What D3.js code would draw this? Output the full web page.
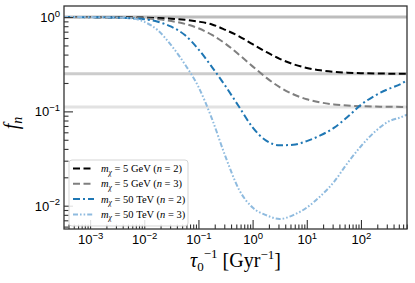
<!DOCTYPE html>
<html><head><meta charset="utf-8">
<script src="https://cdn.jsdelivr.net/npm/d3@7"></script>
<style>
html,body{margin:0;padding:0;background:#fff;}
svg{display:block;font-family:"Liberation Serif","DejaVu Serif",serif;}
</style></head>
<body><svg id="c" width="415" height="283"></svg>
<script>
// inverse timescale tau0^-1 [Gyr^-1]
const tauInv = [3.16e-4,5.62e-4,1e-3,1.78e-3,3.16e-3,5.62e-3,1e-2,1.78e-2,3.16e-2,5.62e-2,0.1,0.178,0.316,0.562,1,1.78,3.16,5.62,10,17.8,31.6,56.2,100,178,316,562,708];
const f5GeVn2 = [1.0,0.9993,0.9986,0.9976,0.9957,0.9924,0.9866,0.9765,0.96,0.935,0.895,0.835,0.73,0.625,0.516,0.427,0.361,0.317,0.289,0.2725,0.2628,0.2573,0.2541,0.2523,0.2513,0.2507,0.2506];
const f5GeVn3 = [0.999,0.998,0.9967,0.994,0.9897,0.9818,0.9683,0.945,0.907,0.847,0.760,0.647,0.521,0.399,0.300,0.228,0.1805,0.1518,0.1345,0.1244,0.1186,0.1154,0.1135,0.1125,0.1119,0.1115,0.1114];
const f50TeVn2 = [1.0,0.999,0.997,0.993,0.986,0.972,0.95,0.89,0.79,0.645,0.455,0.295,0.185,0.112,0.0676,0.049,0.0437,0.0442,0.0484,0.0556,0.0668,0.087,0.1175,0.146,0.172,0.197,0.214];
const f50TeVn3 = [1.0,1.0,0.998,0.995,0.989,0.973,0.89,0.724,0.501,0.316,0.182,0.0832,0.0331,0.0148,0.00955,0.00794,0.00724,0.00794,0.00955,0.0126,0.0178,0.0282,0.0427,0.0603,0.0776,0.0871,0.0923];
const refLevels = [1, 0.25, 0.1111];
const refColors = ["#bdbdbd","#cccccc","#e2e2e2"];
const xMajor = [1e-3,1e-2,1e-1,1,10,100];
const xMajorExp = ["\u22123","\u22122","\u22121","0","1","2"];
const yMajor = [1,0.1,0.01];
const yMajorExp = ["0","\u22121","\u22122"];
const seriesNames = ["5 GeV","5 GeV","50 TeV","50 TeV"];
const seriesN = ["2","3","2","3"];

const series = [
  {v:f5GeVn2, color:"#000000", dash:"7,3.5"},
  {v:f5GeVn3, color:"#7f7f7f", dash:"7,3.5"},
  {v:f50TeVn2, color:"#1f77b4", dash:"7,3,2,3"},
  {v:f50TeVn3, color:"#8fbbdf", dash:"5,2,1.6,2,1.6,2"}
];

const L=64,R=407,T=6,B=229;
const svg=d3.select("#c");
const x=d3.scaleLog().domain([3.3e-4,708]).range([L,R]);
const y=d3.scaleLog().domain([0.00566,1.31]).range([B,T]);

svg.append("defs").append("clipPath").attr("id","clip").append("rect")
  .attr("x",L).attr("y",T).attr("width",R-L).attr("height",B-T);

// reference lines
svg.append("g").selectAll("line").data(refLevels).join("line")
  .attr("x1",L).attr("x2",R).attr("y1",d=>y(d)).attr("y2",d=>y(d))
  .attr("stroke",(d,i)=>refColors[i]).attr("stroke-width",3);

// curves
const line=d3.line().x((d,i)=>x(tauInv[i])).y(d=>y(d)).curve(d3.curveMonotoneX);
svg.append("g").attr("clip-path","url(#clip)").selectAll("path").data(series).join("path")
  .attr("d",d=>line(d.v)).attr("fill","none").attr("stroke",d=>d.color)
  .attr("stroke-width",2).attr("stroke-dasharray",d=>d.dash);

const axCol="#333";
// minor ticks
const xMinor=[];
for(let e=-4;e<=2;e++)for(let m=2;m<=9;m++){const v=m*Math.pow(10,e);if(v>=3.3e-4&&v<=708)xMinor.push(v);}
const yMinor=[];
for(let e=-3;e<=0;e++)for(let m=2;m<=9;m++){const v=m*Math.pow(10,e);if(v>=0.00566&&v<=1.31)yMinor.push(v);}

function styleAxis(g){g.select(".domain").remove();g.selectAll("line").attr("stroke",axCol).attr("stroke-width",1.1);}
svg.append("g").attr("transform",`translate(0,${B})`)
  .call(d3.axisBottom(x).tickValues(xMinor).tickSize(-4.5).tickFormat("")).call(styleAxis);
svg.append("g").attr("transform",`translate(${L},0)`)
  .call(d3.axisLeft(y).tickValues(yMinor).tickSize(-4.5).tickFormat("")).call(styleAxis);

const gx=svg.append("g").attr("transform",`translate(0,${B})`)
  .call(d3.axisBottom(x).tickValues(xMajor).tickSize(-9).tickFormat("")).call(styleAxis);
gx.selectAll(".tick").append("text").attr("fill","#000").attr("text-anchor","middle")
  .attr("y",15).attr("font-size",13)
  .each(function(d,i){const t=d3.select(this);
    t.append("tspan").text("10");
    t.append("tspan").attr("dy",-5.5).attr("font-size",9.5).text(xMajorExp[i]);});

const gy=svg.append("g").attr("transform",`translate(${L},0)`)
  .call(d3.axisLeft(y).tickValues(yMajor).tickSize(-9).tickFormat("")).call(styleAxis);
gy.selectAll(".tick").append("text").attr("fill","#000").attr("text-anchor","end")
  .attr("x",-4).attr("y",4.5).attr("font-size",13)
  .each(function(d,i){const t=d3.select(this);
    t.append("tspan").text("10");
    t.append("tspan").attr("dy",-5.5).attr("font-size",9.5).text(yMajorExp[i]);});

// frame
svg.append("rect").attr("x",L).attr("y",T).attr("width",R-L).attr("height",B-T)
  .attr("fill","none").attr("stroke",axCol).attr("stroke-width",1.3);

// legend
const lg=svg.append("g");
lg.append("rect").attr("x",69).attr("y",160).attr("width",119).attr("height",66).attr("rx",3)
  .attr("fill","#fff").attr("fill-opacity",0.85).attr("stroke","#d0d0d0").attr("stroke-width",0.9);
series.forEach((s,i)=>{
  const yy=168.5+i*15.3;
  lg.append("line").attr("x1",73).attr("x2",94).attr("y1",yy).attr("y2",yy)
    .attr("stroke",s.color).attr("stroke-width",2).attr("stroke-dasharray",s.dash);
  const t=lg.append("text").attr("x",101).attr("y",yy+3.5).attr("font-size",10.5).attr("fill","#000");
  t.append("tspan").attr("font-style","italic").text("m");
  t.append("tspan").attr("font-style","italic").attr("font-size",7.5).attr("dy",2.5).text("\u03c7");
  t.append("tspan").attr("dy",-2.5).text(" = "+seriesNames[i]+" (");
  t.append("tspan").attr("font-style","italic").text("n");
  t.append("tspan").text(" = "+seriesN[i]+")");
});

// axis labels
const xl=svg.append("text").attr("x",235.5).attr("y",267).attr("text-anchor","middle")
  .attr("font-size",20).attr("fill","#000");
xl.append("tspan").attr("font-style","italic").text("\u03c4");
xl.append("tspan").attr("font-size",13).attr("dy",4).text("0");
xl.append("tspan").attr("font-size",13).attr("dy",-13).text("\u22121");
xl.append("tspan").attr("dy",9).text(" [Gyr");
xl.append("tspan").attr("font-size",13).attr("dy",-8).text("\u22121");
xl.append("tspan").attr("dy",8).text("]");

const yl=svg.append("text").attr("transform","translate(18,123) rotate(-90)")
  .attr("text-anchor","middle").attr("font-size",20).attr("fill","#000");
yl.append("tspan").attr("font-style","italic").text("f");
yl.append("tspan").attr("font-style","italic").attr("font-size",14).attr("dy",4).text("n");
</script></body></html>
